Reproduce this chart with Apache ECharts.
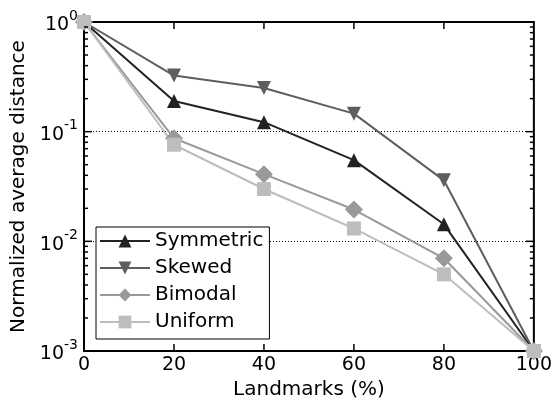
<!DOCTYPE html>
<html>
<head>
<meta charset="utf-8">
<script src="https://cdn.jsdelivr.net/npm/echarts@6/dist/echarts.min.js"></script>
<style>html,body{margin:0;padding:0;background:#fff}#c{width:555px;height:405px}</style>
</head>
<body>
<div id="c"></div>
<script>
const landmarks = [0, 20, 40, 60, 80, 100];
const symmetric = [1, 0.19, 0.122, 0.055, 0.0143, 0.001];
const skewed    = [1, 0.325, 0.25, 0.146, 0.036, 0.001];
const bimodal   = [1, 0.087, 0.041, 0.0195, 0.007, 0.001];
const uniform   = [1, 0.076, 0.030, 0.0131, 0.005, 0.001];
const seriesNames = ['Symmetric', 'Skewed', 'Bimodal', 'Uniform'];
const xTickValues = [20, 40, 60, 80];
const yMajorTickValues = [0.01, 0.1];
const yMinorTickValues = [];
[0.001, 0.01, 0.1].forEach(function (d) { for (let k = 2; k <= 9; k++) yMinorTickValues.push(+(d * k).toPrecision(3)); });

const FONT = 'DejaVu Sans';
const chart = echarts.init(document.getElementById('c'), null, {renderer: 'canvas'});

function pairs(ys) { return landmarks.map(function (x, i) { return [x, ys[i]]; }); }

function mk(name, ys, color, symbol, size, rot) {
  return {
    name: name, type: 'line', data: pairs(ys),
    symbol: symbol, symbolSize: size, symbolRotate: rot || 0,
    lineStyle: {color: color, width: 2}, itemStyle: {color: color},
    showAllSymbol: true, animation: false, z: 3
  };
}

chart.setOption({
  animation: false,
  backgroundColor: '#fff',
  textStyle: {fontFamily: FONT},
  grid: {left: 84, right: 21, top: 22, bottom: 54, containLabel: false,
         show: true, borderColor: '#000', borderWidth: 2, backgroundColor: 'transparent'},
  legend: {
    data: seriesNames,
    orient: 'vertical', left: 96, top: 227,
    itemWidth: 50, itemHeight: 16, itemGap: 5,
    padding: [3, 6, 6, 3],
    borderColor: '#000', borderWidth: 1, backgroundColor: '#fff',
    textStyle: {fontFamily: FONT, fontSize: 20, color: '#000', lineHeight: 22},
    z: 10
  },
  xAxis: {
    type: 'value', min: 0, max: 100, interval: 20, position: 'bottom',
    axisLine: {show: true, onZero: false, lineStyle: {color: '#000', width: 2}},
    axisTick: {show: false},
    splitLine: {show: false},
    name: 'Landmarks (%)', nameLocation: 'middle', nameGap: 26,
    nameTextStyle: {fontFamily: FONT, fontSize: 20, color: '#000'},
    axisLabel: {show: true, margin: 5, fontFamily: FONT, fontSize: 19, color: '#000'}
  },
  yAxis: {
    type: 'log', logBase: 10, min: 0.001, max: 1, position: 'left',
    axisLine: {show: true, onZero: false, lineStyle: {color: '#000', width: 2}},
    axisTick: {show: false},
    minorTick: {show: false},
    name: 'Normalized average distance', nameLocation: 'middle', nameGap: 46,
    nameTextStyle: {fontFamily: FONT, fontSize: 20, color: '#000'},
    splitLine: {show: true, lineStyle: {color: '#000', width: 1, type: [1, 2]}},
    axisLabel: {
      show: true, margin: 6,
      formatter: function (v) {
        const e = Math.round(Math.log10(v));
        return '{b|10}{s|' + e + '}';
      },
      rich: {
        b: {fontFamily: FONT, fontSize: 19, color: '#000', lineHeight: 26, verticalAlign: 'bottom'},
        s: {fontFamily: FONT, fontSize: 14, color: '#000', lineHeight: 14, verticalAlign: 'top'}
      }
    }
  },
  series: [
    mk('Symmetric', symmetric, '#222222', 'triangle', 14),
    mk('Skewed', skewed, '#5e5e5e', 'triangle', 14, 180),
    mk('Bimodal', bimodal, '#999999', 'diamond', 18),
    mk('Uniform', uniform, '#bdbdbd', 'rect', 14)
  ]
});

// Inward tick marks on all four sides, placed through the chart's own scales
const ticks = [];
function seg(x1, y1, x2, y2) {
  ticks.push({type: 'line', silent: true, z: 50,
    shape: {x1: x1, y1: y1, x2: x2, y2: y2},
    style: {stroke: '#000', lineWidth: 1.5}});
}
yMinorTickValues.concat(yMajorTickValues).forEach(function (v) {
  const len = yMajorTickValues.indexOf(v) >= 0 ? 8 : 4;
  const p = chart.convertToPixel({gridIndex: 0}, [0, v]);
  const q = chart.convertToPixel({gridIndex: 0}, [100, v]);
  seg(p[0], p[1], p[0] + len, p[1]);
  seg(q[0], q[1], q[0] - len, q[1]);
});
xTickValues.forEach(function (x) {
  const t = chart.convertToPixel({gridIndex: 0}, [x, 1]);
  const b = chart.convertToPixel({gridIndex: 0}, [x, 0.001]);
  seg(t[0], t[1], t[0], t[1] + 7);
  seg(b[0], b[1], b[0], b[1] - 7);
});
chart.setOption({graphic: {elements: ticks}});
</script>
</body>
</html>
